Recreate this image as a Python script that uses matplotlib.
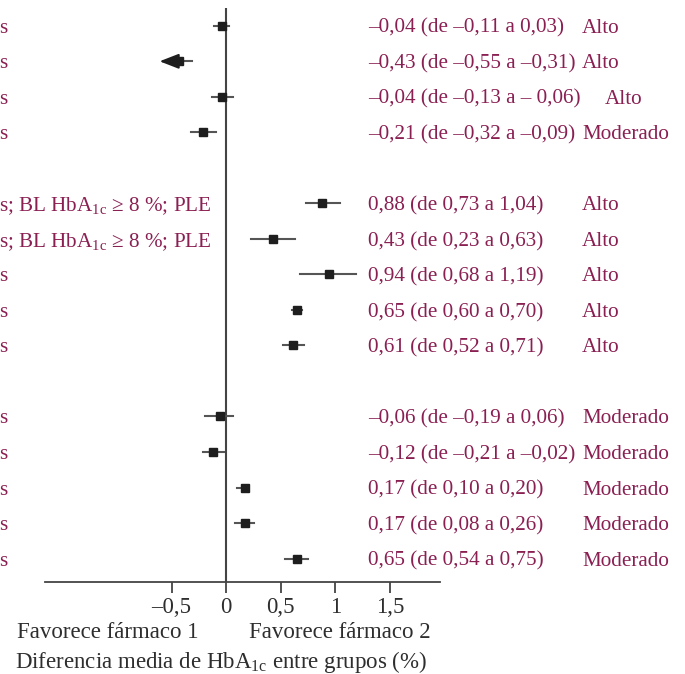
import matplotlib
matplotlib.use("Agg")
import matplotlib.pyplot as plt
from matplotlib.transforms import blended_transform_factory

plt.rcParams['font.family'] = ['Liberation Serif', 'DejaVu Serif']
plt.rcParams['mathtext.fontset'] = 'custom'
plt.rcParams['mathtext.rm'] = 'Liberation Serif'
plt.rcParams['mathtext.it'] = 'Liberation Serif:italic'

# row positions (blank rows separate the three groups)
rows = [0, 1, 2, 3, 5, 6, 7, 8, 9, 11, 12, 13, 14, 15]
left_labels = ['s', 's', 's', 's',
               's; BL HbA$_{\\mathrm{1c}}$ \u2265 8 %; PLE',
               's; BL HbA$_{\\mathrm{1c}}$ \u2265 8 %; PLE',
               's', 's', 's',
               's', 's', 's', 's', 's']
means = [-0.04, -0.43, -0.04, -0.21, 0.88, 0.43, 0.94, 0.65, 0.61,
         -0.06, -0.12, 0.17, 0.17, 0.65]
lower = [-0.11, -0.55, -0.13, -0.32, 0.73, 0.23, 0.68, 0.60, 0.52,
         -0.19, -0.21, 0.10, 0.08, 0.54]
upper = [0.03, -0.31, 0.06, -0.09, 1.04, 0.63, 1.19, 0.70, 0.71,
         0.06, -0.02, 0.20, 0.26, 0.75]
ci_text = ['\u20130,04 (de \u20130,11 a 0,03)',
           '\u20130,43 (de \u20130,55 a \u20130,31)',
           '\u20130,04 (de \u20130,13 a \u2013 0,06)',
           '\u20130,21 (de \u20130,32 a \u20130,09)',
           '0,88 (de 0,73 a 1,04)',
           '0,43 (de 0,23 a 0,63)',
           '0,94 (de 0,68 a 1,19)',
           '0,65 (de 0,60 a 0,70)',
           '0,61 (de 0,52 a 0,71)',
           '\u20130,06 (de \u20130,19 a 0,06)',
           '\u20130,12 (de \u20130,21 a \u20130,02)',
           '0,17 (de 0,10 a 0,20)',
           '0,17 (de 0,08 a 0,26)',
           '0,65 (de 0,54 a 0,75)']
quality = ['Alto', 'Alto', 'Alto', 'Moderado',
           'Alto', 'Alto', 'Alto', 'Alto', 'Alto',
           'Moderado', 'Moderado', 'Moderado', 'Moderado', 'Moderado']
xticks = [-0.5, 0, 0.5, 1, 1.5]
xtick_labels = ['\u20130,5', '0', '0,5', '1', '1,5']

text_col = '#8a1f52'
dark = '#2e2e2e'
line_col = '#555555'
fs = 15.2
fs_axis = 16.5

fig = plt.figure(figsize=(6.85, 6.74), dpi=100)
ax = fig.add_axes([0.0657, 0.1365, 0.5766, 0.8516])
ax.set_xlim(-1.66, 1.96)
ax.set_ylim(15.66, -0.5)

# no-effect line
ax.axvline(0, color='#444444', lw=1.5, zorder=1)

for i, y in enumerate(rows):
    ax.plot([lower[i], upper[i]], [y, y], color=line_col, lw=1.5, zorder=2)
    ax.plot(means[i], y, marker='s', ms=5.5, color='#1e1e1e', zorder=3)

# the second estimate runs off to the left
ax.annotate('', xy=(-0.61, rows[1]), xytext=(-0.45, rows[1]),
            arrowprops=dict(arrowstyle='-|>,head_length=0.9,head_width=0.35',
                            color='#1e1e1e', lw=1.5, mutation_scale=13,
                            shrinkA=0, shrinkB=0), zorder=4)

trans = blended_transform_factory(fig.transFigure, ax.transData)
for i, y in enumerate(rows):
    ax.text(-0.002, y, left_labels[i], transform=trans, ha='left',
            va='center_baseline', fontsize=fs, color=text_col, clip_on=False)
    ax.text(368 / 685, y, ci_text[i], transform=trans, ha='left',
            va='center_baseline', fontsize=fs, color=text_col, clip_on=False)
    qx = 605 / 685 if i == 2 else 582 / 685
    ax.text(qx, y, quality[i], transform=trans, ha='left',
            va='center_baseline', fontsize=fs, color=text_col, clip_on=False)

for s in ['top', 'right', 'left']:
    ax.spines[s].set_visible(False)
ax.spines['bottom'].set_color('#444444')
ax.spines['bottom'].set_linewidth(1.3)
ax.set_yticks([])
ax.set_xticks(xticks)
ax.set_xticklabels(xtick_labels, fontsize=fs_axis, color=dark)
ax.tick_params(axis='x', length=8, width=1.3, color='#444444', pad=3)

fig.text(108 / 685, 1 - 633 / 674, 'Favorece f\u00e1rmaco 1', ha='center',
         va='center', fontsize=fs_axis, color=dark)
fig.text(340 / 685, 1 - 633 / 674, 'Favorece f\u00e1rmaco 2', ha='center',
         va='center', fontsize=fs_axis, color=dark)
fig.text(221 / 685, 1 - 662 / 674,
         'Diferencia media de HbA$_{\\mathrm{1c}}$ entre grupos (%)',
         ha='center', va='center', fontsize=fs_axis, color=dark)

fig.savefig('out.png', dpi=100)
